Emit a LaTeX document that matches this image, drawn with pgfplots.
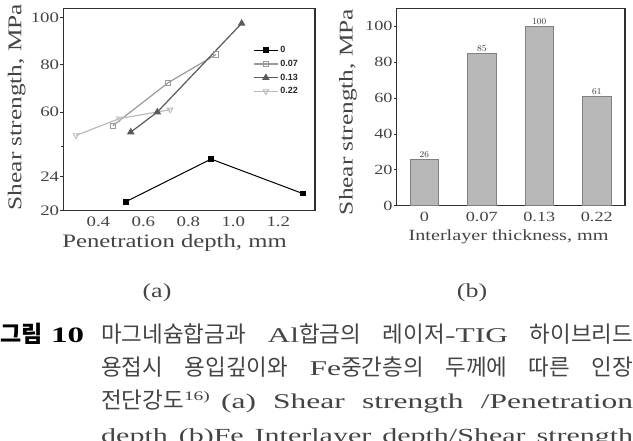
\documentclass[border=0pt]{standalone}
\usepackage{pgfplots}
\pgfplotsset{compat=1.18}
\usepackage{fontspec}
\setmainfont{Liberation Serif}
\newfontfamily\ws[FakeStretch=1.3]{Liberation Serif}
\newfontfamily\wc[FakeStretch=1.5]{Liberation Serif}
\newfontfamily\kr{Noto Sans CJK KR}
\newfontfamily\lsans{Liberation Sans}
\newcommand{\fs}[1]{\fontsize{#1}{#1}\selectfont}
\definecolor{frm}{HTML}{303030}
\definecolor{sA}{HTML}{9A9A9A}
\definecolor{sB}{HTML}{5A5A5A}
\definecolor{sC}{HTML}{BBBBBB}
\definecolor{barfill}{HTML}{B8B8B8}
\definecolor{baredge}{HTML}{808080}
\definecolor{txt}{HTML}{444444}
\pgfplotsset{
  leftpanel/.style={
    scale only axis, width=251.7pt, xmin=0.244, xmax=1.363,
    axis line style={draw=none},
    tick align=outside, x tick style={draw=none}, y tick style={draw=frm, line width=0.8pt},
    major tick length=3pt, ytick pos=left, xtick pos=bottom,
    tick label style={font=\ws\fs{14.5}, text=txt},
    yticklabel style={inner sep=1pt},
  }
}
\begin{document}
\begin{tikzpicture}
\useasboundingbox (0pt,0pt) rectangle (633pt,-440pt);
\fill[frm] (62.7pt,-211.3pt) rectangle (315.6pt,-210.1pt);
\fill[frm] (62.7pt,-8.9pt) rectangle (315.6pt,-7.7pt);
\fill[frm] (62.7pt,-211.3pt) rectangle (63.9pt,-7.7pt);
\fill[frm] (314.4pt,-211.3pt) rectangle (315.6pt,-7.7pt);
\fill[frm] (61pt,-146.3pt) rectangle (63.3pt,-145.7pt);
% ---------- (a) lower part ----------
\begin{axis}[leftpanel,
  at={(63.3pt,-210.7pt)}, anchor=south west, height=64.7pt,
  ymin=20, ymax=27.52,
  xtick={0.4,0.6,0.8,1.0,1.2}, xticklabels={0.4,0.6,0.8,1.0,1.2},
  ytick={20,24}, yticklabels={20,24},
  xlabel={Penetration depth, mm},
  xlabel style={font=\ws\fs{19}, text=txt, at={(axis description cs:0.442,-0.5)}, anchor=center},
]
\addplot[black, line width=1pt, mark=square*, mark size=2.4pt] coordinates {(0.522,21.05) (0.901,26.0) (1.308,22.0)};
\end{axis}
% ---------- (a) upper part ----------
\begin{axis}[leftpanel,
  at={(63.3pt,-146pt)}, anchor=south west, height=137.7pt,
  ymin=45.6, ymax=104,
  xtick=\empty,
  ytick={60,80,100}, yticklabels={60,80,100},
  ylabel={Shear strength, MPa},
  ylabel style={font=\ws\fs{19.5}, text=txt, at={(axis description cs:-0.185,0.283)}, anchor=center},
  legend style={at={(rel axis cs:0.754,0.74)}, anchor=north west, draw=none, fill=none,
    font=\lsans\bfseries\fs{9}, row sep=2pt, inner sep=0pt, text=black!85},
  legend cell align=left,
  legend image code/.code={\draw[mark repeat=2,mark phase=2,#1] plot coordinates {(0pt,0pt) (12pt,0pt) (24pt,0pt)};},
]
\addlegendimage{black, line width=1pt, mark=square*, mark size=2.4pt}
\addlegendentry{0}
\addplot[sA, line width=1.2pt, mark=square, mark size=2.6pt, mark options={fill=white, line width=0.9pt}] coordinates {(0.464,54.2) (0.711,72.5) (0.923,84.4)};
\addlegendentry{0.07}
\addplot[sB, line width=1.2pt, mark=triangle*, mark size=3.2pt, mark options={fill=sB}] coordinates {(0.544,51.5) (0.662,60.0) (1.037,97.6)};
\addlegendentry{0.13}
\addplot[sC, line width=1.2pt, mark=triangle, mark size=3.2pt, mark options={fill=white, rotate=180, line width=0.9pt}] coordinates {(0.301,50.1) (0.493,57.2) (0.719,61.0)};
\addlegendentry{0.22}
\end{axis}
% ---------- (b) ----------
\begin{axis}[
  at={(396.7pt,-205.7pt)}, anchor=south west, scale only axis,
  width=228.3pt, height=197.4pt,
  xmin=-0.48, xmax=3.49, ymin=0, ymax=110,
  xtick={0,1,2,3}, xticklabels={0,0.07,0.13,0.22},
  ytick={0,20,40,60,80,100}, yticklabels={0,20,40,60,80,100},
  axis line style={draw=frm, line width=1.2pt},
  tick align=outside, x tick style={draw=none}, y tick style={draw=frm, line width=0.8pt},
  major tick length=3pt,
  ytick pos=left, xtick pos=bottom,
  tick label style={font=\ws\fs{14}, text=txt},
  yticklabel style={inner sep=1pt},
  xlabel={Interlayer thickness, mm},
  ylabel={Shear strength, MPa},
  xlabel style={font=\ws\fs{15.5}, text=txt, at={(axis description cs:0.49,-0.159)}, anchor=center},
  ylabel style={font=\ws\fs{19.5}, text=txt, at={(axis description cs:-0.213,0.475)}, anchor=center},
  ybar, bar width=28.3pt,
  nodes near coords,
  nodes near coords style={font=\lsans\bfseries\fs{9}, inner sep=1.5pt, text=black!80},
]
\addplot[fill=barfill, draw=baredge, line width=0.8pt] coordinates {(0,26) (1,85) (2,100) (3,61)};
\end{axis}
% ---------- captions ----------
\node[font=\ws\fs{20}, text=txt] at (157pt,-293pt) {(a)};
\node[font=\ws\fs{20}, text=txt] at (472pt,-293pt) {(b)};
\node[anchor=base west, inner sep=0pt] at (0pt,-342pt) {\makebox[84pt][s]{\kr\bfseries\fs{23}그림 {\wc\bfseries\fs{22}10}}};
\node[anchor=base west, inner sep=0pt, text=txt] at (101pt,-342pt) {\makebox[532pt][s]{\kr\fs{22.5}마그네슘합금과 {\wc\fs{21}Al}합금의 레이저{\wc\fs{21}-TIG} 하이브리드}};
\node[anchor=base west, inner sep=0pt, text=txt] at (101pt,-375pt) {\makebox[532pt][s]{\kr\fs{22.5}용접시 용입깊이와 {\wc\fs{21}Fe}중간층의 두께에 따른 인장}};
\node[anchor=base west, inner sep=0pt, text=txt] at (101pt,-408pt) {\makebox[532pt][s]{\kr\fs{22.5}전단강도\raisebox{8pt}{\wc\fs{13}16)} {\wc\fs{21}(a) Shear strength /Penetration}}};
\node[anchor=base west, inner sep=0pt, text=txt] at (101pt,-442pt) {\makebox[532pt][s]{\wc\fs{20}depth (b)Fe Interlayer depth/Shear strength}};
\end{tikzpicture}
\end{document}
